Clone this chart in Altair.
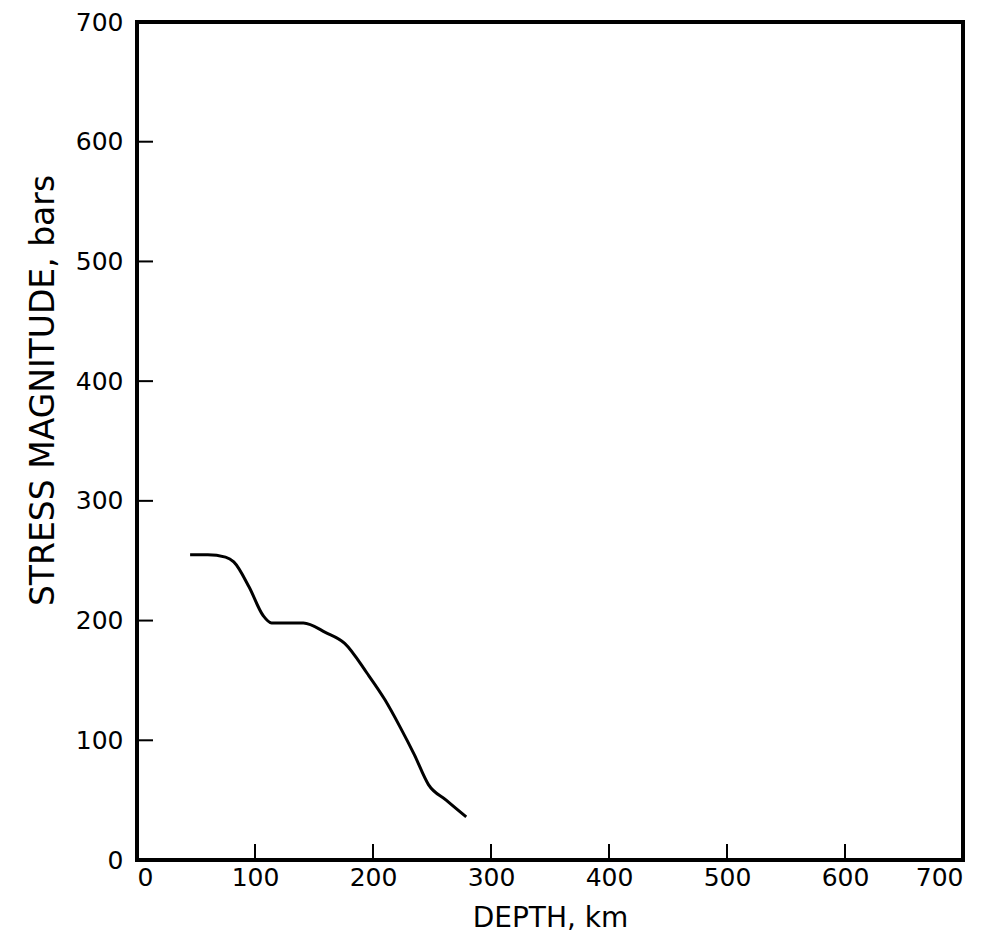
import altair as alt
import pandas as pd

depth = [45, 60, 75, 82, 95, 107, 114, 125, 141, 160, 176, 195, 210, 223, 235, 247, 262, 279]
stress = [255, 255, 253, 249, 228, 204, 198, 198, 198, 190, 181, 156, 134, 111, 88, 63, 50, 36]
ticks = [0, 100, 200, 300, 400, 500, 600, 700]

curve = pd.DataFrame({"depth": depth, "stress": stress})
tick_df = pd.DataFrame({"t": ticks[1:-1]})

W, H = 826, 838
FONT = "DejaVu Sans"

xscale = alt.Scale(domain=[0, 700], nice=False)
yscale = alt.Scale(domain=[0, 700], nice=False)

xaxis = alt.Axis(values=ticks, title="DEPTH, km", grid=False, ticks=False, domain=False,
                 labelFontSize=25, labelPadding=5, titleFontSize=28, titlePadding=14,
                 labelFont=FONT, titleFont=FONT, titleFontWeight="normal",
                 labelColor="black", titleColor="black")
yaxis = alt.Axis(values=ticks, title="STRESS MAGNITUDE, bars", grid=False, ticks=False, domain=False,
                 labelFontSize=25, labelPadding=14, titleFontSize=33,
                 titleX=-94, titleY=368, titleAlign="center", titleBaseline="middle", titleAngle=270,
                 labelFont=FONT, titleFont=FONT, titleFontWeight="normal",
                 labelColor="black", titleColor="black")

line = alt.Chart(curve).mark_line(color="black", strokeWidth=3, interpolate="monotone").encode(
    x=alt.X("depth:Q", scale=xscale, axis=xaxis),
    y=alt.Y("stress:Q", scale=yscale, axis=yaxis),
)

xticks = alt.Chart(tick_df).mark_rule(color="black", strokeWidth=2).encode(
    x=alt.X("t:Q", scale=xscale),
    y=alt.value(H), y2=alt.value(H - 16),
)
yticks = alt.Chart(tick_df).mark_rule(color="black", strokeWidth=2).encode(
    y=alt.Y("t:Q", scale=yscale),
    x=alt.value(0), x2=alt.value(16),
)

chart = alt.layer(line, xticks, yticks).properties(
    width=W, height=H,
    autosize=alt.AutoSizeParams(type="none"),
    padding={"left": 129, "top": 14, "right": 10, "bottom": 80},
).configure(
    background="white",
    view=alt.ViewConfig(stroke="black", strokeWidth=4),
)

chart.save("out.html", embed_options={"renderer": "svg", "actions": False})
